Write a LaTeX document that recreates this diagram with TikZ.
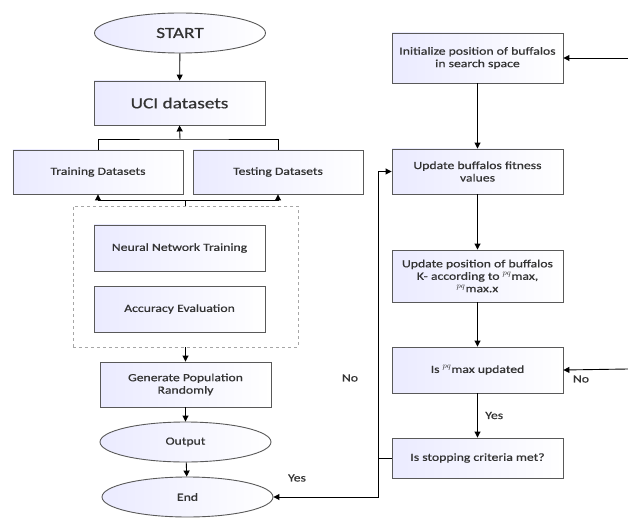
\documentclass[tikz,border=0pt]{standalone}
\usepackage{fontspec}
\setmainfont{Carlito}[FakeStretch=1.25, FakeBold=0.6]
\usetikzlibrary{arrows.meta, shapes.geometric}

\tikzset{
  procbox/.style={draw=black!65, line width=0.9pt, left color=blue!8, right color=white,
    minimum width=171bp, align=center, font=\fontsize{11}{12.5}\selectfont, text=black!80},
  termell/.style={ellipse, draw=black!65, line width=0.9pt, left color=blue!8, right color=white,
    minimum width=171bp, minimum height=40bp, font=\fontsize{11}{12.5}\selectfont, text=black!80},
  groupbox/.style={draw=black!35, dashed, line width=0.8pt, minimum width=225bp, minimum height=141bp},
  arr/.style={-{Triangle[length=6pt,width=6pt]}, line width=0.9pt},
  lbl/.style={font=\fontsize{11}{13}\selectfont, text=black!80}
}

\begin{document}
\begin{tikzpicture}[x=1bp, y=-1bp]
  \useasboundingbox (0,0) rectangle (628,519);
  % ---------- left column ----------
  \node[termell, font=\fontsize{15.5}{18}\selectfont] (start) at (180,33) {START};
  \node[procbox, minimum height=44bp, font=\fontsize{15.5}{18}\selectfont] (uci) at (179.5,103) {UCI datasets};
  \node[procbox, minimum width=170bp, minimum height=44bp] (train) at (98,172) {Training Datasets};
  \node[procbox, minimum width=170bp, minimum height=44bp] (test) at (278,172) {Testing Datasets};
  \node[groupbox] (grp) at (185.5,276.5) {};
  \node[procbox, minimum height=46bp] (nnt) at (179.5,248) {Neural Network Training};
  \node[procbox, minimum height=46bp] (acc) at (179.5,309) {Accuracy Evaluation};
  \node[procbox, minimum height=45bp] (gen) at (185.5,384.5) {Generate Population\\Randomly};
  \node[termell] (out) at (185.5,442) {Output};
  \node[termell] (end) at (187.5,497) {End};
  \coordinate (j1) at (180,139);
  \coordinate (j2) at (185.5,200);
  \draw[arr] (start) -- (uci);
  \draw[line width=0.9pt] (train.north) |- (j1) -| (test.north);
  \draw[arr] (j1) -- (uci.south);
  \draw[line width=0.9pt] (grp.north) -- (j2);
  \draw[arr] (j2) -| (train.south);
  \draw[arr] (j2) -| (test.south);
  \draw[arr] (grp.south) -- (gen.north);
  \draw[arr] (gen) -- (out);
  \draw[arr] (out) -- (end);
  % ---------- right column ----------
  \node[procbox, minimum height=50bp] (init) at (477.5,58) {Initialize position of buffalos\\in search space};
  \node[procbox, minimum height=45bp] (fit) at (477.5,171.5) {Update buffalos fitness\\values};
  \node[procbox, minimum height=52bp] (upd) at (477.5,276) {Update position of buffalos\\K- according to $^{pq}$max,\\$^{pq}$max.x};
  \node[procbox, minimum height=46bp] (ismax) at (477.5,370) {Is $^{pq}$max updated};
  \node[procbox, minimum height=40bp] (stop) at (477.5,458) {Is stopping criteria met?};
  \coordinate (inR) at (628,58);
  \coordinate (noR) at (628,369);
  \coordinate (lp) at (378,458);
  \draw[arr] (inR) -- (init.east);
  \draw[arr] (init) -- (fit);
  \draw[arr] (fit) -- (upd);
  \draw[arr] (upd) -- (ismax);
  \draw[arr] (ismax) -- node[lbl, right=4bp] {Yes} (stop);
  \draw[arr] (noR) -- (ismax.east);
  \draw[line width=0.9pt] (stop.west) -- (lp);
  \draw[arr] (lp) |- (fit.west);
  \draw[arr] (lp) |- (end.east);
  % ---------- labels ----------
  \node[lbl] (noleft) at (350,378) {No};
  \node[lbl] (yesleft) at (297,478) {Yes};
  \node[lbl] (noright) at (581,379) {No};
\end{tikzpicture}
\end{document}
